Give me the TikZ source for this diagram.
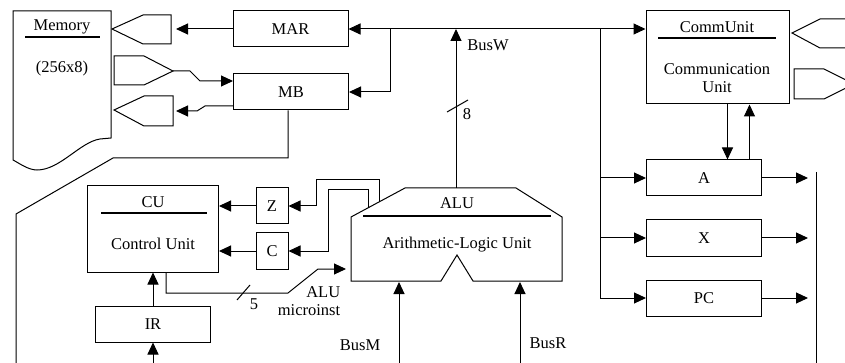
\documentclass[tikz,border=0pt]{standalone}
\usepackage{fontspec}
\setmainfont{Liberation Serif}
\usetikzlibrary{arrows.meta}

\begin{document}
\begin{tikzpicture}[x=1pt,y=-1pt,line width=1pt,>={Triangle[length=12pt,width=11pt]},
  font=\fontsize{16.5}{17.5}\selectfont,
  regbox/.style={draw,minimum width=115pt,minimum height=36pt,inner sep=0pt},
  bitbox/.style={draw,minimum width=32pt,minimum height=36pt,inner sep=0pt},
  titlerule/.style={line width=1.8pt}]
  \useasboundingbox (0,0) rectangle (845,363);
  \clip (0,0) rectangle (845,363);
  % memory and its ports
  \draw (13,11) -- (111,11) -- (111,138) -- (100,139) .. controls (80,142) and (60,170) .. (37,170)
    .. controls (28,170) and (19,163) .. (13,160) -- cycle;
  \node (memtitle) at (62,27) {Memory};
  \draw[titlerule] (25,37) -- (100,37);
  \node (memsize) at (62,69) {(256x8)};
  \draw (112,29) -- (143,15) -- (171,15) -- (171,44) -- (143,44) -- cycle;
  \draw (114,56) -- (144,56) -- (173,71) -- (144,85) -- (114,85) -- cycle;
  \draw (114,110) -- (144,96) -- (173,96) -- (173,126) -- (144,126) -- cycle;
  % registers
  \node[regbox] (MAR) at (290.5,29) {MAR};
  \node[regbox] (MB) at (291,92) {MB};
  \node[regbox] (A) at (704,178) {A};
  \node[regbox] (X) at (704,238) {X};
  \node[regbox] (PC) at (704,298) {PC};
  \node[regbox] (IR) at (153,324) {IR};
  \node[bitbox] (Z) at (272,206) {Z};
  \node[bitbox] (C) at (272,251) {C};
  % communication unit
  \node[draw,minimum width=143pt,minimum height=93pt] (CommUnit) at (717.5,57.5) {};
  \node (commtitle) at (717,27) {CommUnit};
  \draw[titlerule] (658,38) -- (776,38);
  \node[align=center] (commtext) at (717,78) {Communication\\Unit};
  \draw (850,19) -- (820,19) -- (792,33) -- (820,48) -- (850,48);
  \draw (794,69) -- (824,69) -- (854,84) -- (824,99) -- (794,99) -- cycle;
  % control unit
  \node[draw,minimum width=131pt,minimum height=86pt] (CU) at (153,229) {};
  \node (cutitle) at (153,202) {CU};
  \draw[titlerule] (101,213) -- (207,213);
  \node (cutext) at (153,244) {Control Unit};
  % ALU
  \draw (405,188) -- (516,188) -- (562,217) -- (562,281) -- (473,281) -- (457,255) -- (441,281)
    -- (351,281) -- (351,217) -- cycle;
  \node (alutitle) at (457,203) {ALU};
  \draw[titlerule] (363,216) -- (551,216);
  \node (alutext) at (457,245) {Arithmetic-Logic Unit};

  \coordinate (busw) at (456,29);
  \coordinate (busj) at (390,29);
  \coordinate (busr) at (600,29);
  \coordinate (alutop) at (456,188);
  \coordinate (aluz) at (379,202);
  \coordinate (aluc) at (368,208);
  \coordinate (aluin) at (346,269);
  \coordinate (alum) at (399,282);
  \coordinate (alur) at (520,282);
  \coordinate (busmin) at (399,370);
  \coordinate (busrin) at (520,370);
  \coordinate (irin) at (153,370);
  \coordinate (outbus) at (808,172);
  \coordinate (outline) at (816,172);
  \coordinate (marport) at (176,29);
  \coordinate (memin) at (173,71);
  \coordinate (memout) at (176,111);
  \coordinate (cudn) at ([xshift=10pt]CommUnit.south);
  \coordinate (cuup) at ([xshift=32pt]CommUnit.south);
  \coordinate (cuout) at ([xshift=13pt]CU.south);

  % bus W
  \draw[->] (busw) -- (MAR.east);
  \draw[->] (busw) -- (CommUnit.west |- busw);
  \draw[->] (busj) |- (MB.east);
  \draw[->] (alutop) -- (busw);
  \draw (447,112) -- (468,100);
  \node (buswidth) at (467,114) {8};
  \node (buswlabel) at (488,45) {BusW};
  \draw[->] (busr) |- (A.west);
  \draw[->] (busr) |- (X.west);
  \draw[->] (busr) |- (PC.west);
  \draw[->] (A.east) -- (A.east -| outbus);
  \draw[->] (X.east) -- (X.east -| outbus);
  \draw[->] (PC.east) -- (PC.east -| outbus);
  \draw (outline) -- (outline |- irin);
  \draw[->] (cudn) -- (cudn |- A.north);
  \draw[->] (cuup |- A.north) -- (cuup);
  % memory side
  \draw[->] (MAR.west) -- (marport);
  \draw[->] (memin) -- (190,71) -- (200,81) -- ([yshift=11pt]MB.west);
  \draw[->] ([yshift=-14pt]MB.west) -- (205,106) -- (197,111) -- (memout);
  \draw ([xshift=-3pt]MB.south) |- (113,158) -- (16,214) -- (16,370);
  % flags and control
  \draw[->] (Z.west) -- (Z.west -| CU.east);
  \draw[->] (C.west) -- (C.west -| CU.east);
  \draw[->] (aluz) -- (379,180) -- (316,180) |- (Z.east);
  \draw[->] (aluc) -- (368,190) -- (328,190) |- (C.east);
  \draw[->] (cuout) |- (288,293) -- (318,269) -- (aluin);
  \draw (237,300) -- (250,285);
  \node (microwidth) at (254,304) {5};
  \node[align=right,anchor=east] (microlabel) at (344,301) {ALU\\microinst};
  \draw[->] (IR.north) -- (CU.south);
  \draw[->] (irin) -- (IR.south);
  % buses M and R
  \draw[->] (busmin) -- (alum);
  \node (busmlabel) at (360,345) {BusM};
  \draw[->] (busrin) -- (alur);
  \node (busrlabel) at (548,343) {BusR};
\end{tikzpicture}
\end{document}
